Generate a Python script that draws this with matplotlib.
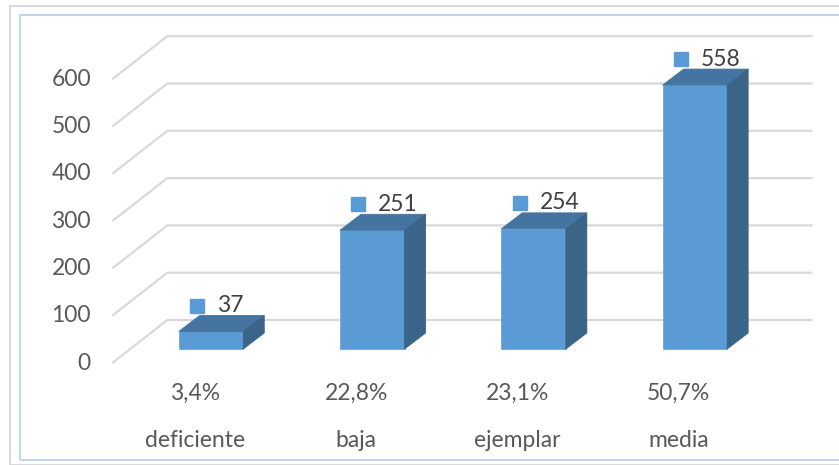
import matplotlib.pyplot as plt
from matplotlib.patches import Polygon, Rectangle

categories = ["deficiente", "baja", "ejemplar", "media"]
percentages = ["3,4%", "22,8%", "23,1%", "50,7%"]
counts = [37, 251, 254, 558]
y_ticks = [0, 100, 200, 300, 400, 500, 600]

plt.rcParams["font.family"] = ["Lato", "DejaVu Sans"]

FRONT = "#5B9BD5"
TOP = "#44749F"
SIDE = "#3A6488"
GRID = "#D9D9D9"
TEXT = "#595959"
FS = 16.5

fig = plt.figure(figsize=(8.39, 4.65), dpi=100)
ax = fig.add_axes([0, 0, 1, 1])
# pixel-matched scale: bar centres 161.3 px apart, 0.473 px per unit
ax.set_xlim(-211 / 161.3, (839 - 211) / 161.3)
ax.set_ylim((349 - 465) / 0.473, 349 / 0.473)
ax.axis("off")

# 3D offsets (data units)
wall_dx, wall_dy = 0.229, 61.3     # bar front plane -> back wall
front_dx, front_dy = -0.112, -29.6  # bar front plane -> front edge of floor
depth_dx, depth_dy = 0.13, 33.8     # bar depth
bar_w = 0.4
x0, x1 = -0.5, 3.5

# gridlines: diagonal on the side wall + horizontal on the back wall
for v in y_ticks:
    ax.plot([x0 + front_dx, x0 + wall_dx, x1 + wall_dx],
            [v + front_dy, v + wall_dy, v + wall_dy],
            color=GRID, lw=1.6, zorder=1, solid_capstyle="butt")
    ax.text(-0.744, v + front_dy, str(v), ha="right", va="center",
            fontsize=FS, color=TEXT)

# bars
for i, c in enumerate(counts):
    l, r = i - bar_w / 2, i + bar_w / 2
    ax.bar(i, c, width=bar_w, color=FRONT, edgecolor="#6FA8DC", lw=0.6, zorder=3)
    ax.add_patch(Polygon([(l, c), (r, c), (r + depth_dx, c + depth_dy),
                          (l + depth_dx, c + depth_dy)],
                         closed=True, facecolor=TOP, edgecolor=TOP, lw=0.6, zorder=3))
    ax.add_patch(Polygon([(r, 0), (r, c), (r + depth_dx, c + depth_dy),
                          (r + depth_dx, depth_dy)],
                         closed=True, facecolor=SIDE, edgecolor=SIDE, lw=0.6, zorder=3))
    # data label: square marker + value
    ly = c + depth_dy + 21
    ax.plot(i - 0.087, ly, marker="s", ms=10, color=FRONT, ls="none", zorder=4)
    ax.text(i + 0.037, ly, str(c), ha="left", va="center",
            fontsize=FS, color="#404040", zorder=4)
    # category labels
    ax.text(i - 0.1, -93, percentages[i], ha="center", va="center",
            fontsize=FS, color=TEXT)
    ax.text(i - 0.1, -193, categories[i], ha="center", va="center",
            fontsize=FS, color=TEXT)

# chart borders (figure pixels)
W, H = 839, 465
fig.patches.append(Rectangle((9.5 / W, 0), 1, 1 - 6.5 / H, transform=fig.transFigure,
                             fill=False, edgecolor="#D9D9D9", lw=1.5))
fig.patches.append(Rectangle((20 / W, 5 / H), 1, 1 - 20 / H, transform=fig.transFigure,
                             fill=False, edgecolor="#BDD7EE", lw=1.5))

fig.savefig("out.png", dpi=100)
